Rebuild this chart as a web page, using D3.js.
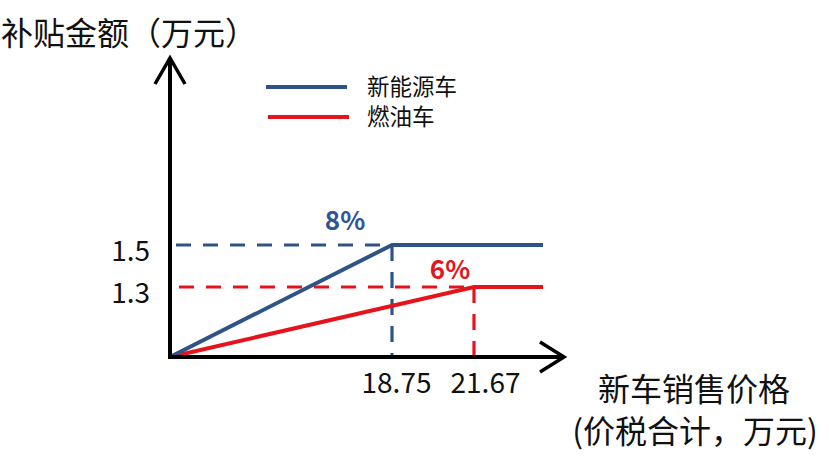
<!DOCTYPE html>
<html><head><meta charset="utf-8">
<script src="https://cdn.jsdelivr.net/npm/d3@7"></script>
<style>
body{margin:0;background:#fff}
svg{display:block}
text{font-family:"Noto Sans CJK SC","Noto Sans",sans-serif}
</style>
</head><body>
<svg id="c" width="829" height="459"></svg>
<script>
// ---- data ----
const seriesNames = ["新能源车", "燃油车"];
const seriesColors = ["#2E5387", "#E5141C"];
const capPrice = [18.75, 21.67];     // price where subsidy reaches its cap
const capSubsidy = [1.5, 1.3];       // subsidy cap (万元)
const rateLabels = ["8%", "6%"];
const xTickValues = [18.75, 21.67];
const xTickLabels = ["18.75", "21.67"];
const yTickValues = [1.5, 1.3];
const yTickLabels = ["1.5", "1.3"];
const priceEnd = 24.5;
const yTitle = "补贴金额（万元）";
const xTitle = ["新车销售价格", "(价税合计，万元)"];

// ---- layout ----
const svg = d3.select("#c");
const x0 = 170, y0 = 357;
// schematic (piecewise) scales, as in the reference
const x = d3.scaleLinear()
  .domain([0, ...[...capPrice].sort(d3.ascending), priceEnd])
  .range([x0, 392, 474, 543]);
const y = d3.scaleLinear()
  .domain([0, ...[...capSubsidy].sort(d3.ascending)])
  .range([y0, 287, 245]);

const series = seriesNames.map((n, i) => ({
  name: n, color: seriesColors[i], rate: rateLabels[i],
  pts: [[0, 0], [capPrice[i], capSubsidy[i]], [priceEnd, capSubsidy[i]]]
}));

// dashed guides
const gGuide = svg.append("g");
series.forEach((s, i) => {
  gGuide.append("line")
    .attr("x1", x0 + 6 + i * 3).attr("x2", x(capPrice[i]))
    .attr("y1", y(capSubsidy[i])).attr("y2", y(capSubsidy[i]))
    .attr("stroke", s.color).attr("stroke-width", 3.2)
    .attr("stroke-dasharray", "15,12");
  gGuide.append("line")
    .attr("x1", x(capPrice[i])).attr("x2", x(capPrice[i]))
    .attr("y1", y(capSubsidy[i])).attr("y2", y0)
    .attr("stroke", s.color).attr("stroke-width", 3.2)
    .attr("stroke-dasharray", "16,11");
});

// solid lines
const line = d3.line().x(d => x(d[0])).y(d => y(d[1]));
[1, 0].forEach(i => {
  svg.append("path").datum(series[i].pts)
    .attr("d", line).attr("fill", "none")
    .attr("stroke", series[i].color).attr("stroke-width", 4)
    .attr("stroke-linejoin", "miter");
});

// rate labels
const rateOffsets = [[-47, -27], [-24, -20]];
series.forEach((s, i) => {
  svg.append("text")
    .attr("x", x(capPrice[i]) + rateOffsets[i][0])
    .attr("y", y(capSubsidy[i]) + rateOffsets[i][1])
    .attr("text-anchor", "middle").attr("dominant-baseline", "central")
    .attr("font-size", 26).attr("font-weight", "bold")
    .attr("fill", i === 0 ? "#2F5597" : "#E5141C")
    .text(s.rate);
});

// axes tick labels via d3 axes
const yAxis = d3.axisLeft(y).tickValues(yTickValues)
  .tickFormat((d, i) => yTickLabels[i]).tickSize(0).tickPadding(20);
const gy = svg.append("g").attr("transform", `translate(${x0},0)`).call(yAxis);
gy.select(".domain").remove();
gy.selectAll("text").attr("font-size", 28).attr("fill", "#111")
  .attr("font-family", '"Noto Sans CJK SC",sans-serif').attr("dy", "0.55em");

const xAxis = d3.axisBottom(x).tickValues(xTickValues)
  .tickFormat((d, i) => xTickLabels[i]).tickSize(0).tickPadding(16);
const gx = svg.append("g").attr("transform", `translate(0,${y0})`).call(xAxis);
gx.select(".domain").remove();
gx.selectAll("text").attr("font-size", 28).attr("fill", "#111")
  .attr("font-family", '"Noto Sans CJK SC",sans-serif')
  .attr("dx", (d, i) => i === 0 ? 4 : 11);

// axis lines with arrows
const axisG = svg.append("g").attr("fill", "none").attr("stroke", "#000")
  .attr("stroke-width", 4).attr("stroke-linecap", "butt").attr("stroke-linejoin", "miter");
axisG.append("path").attr("d", `M${x0},${y0 + 2}V58`);
axisG.append("path").attr("d", `M${x0 - 15},84L${x0},58L${x0 + 15},84`).attr("stroke-width", 3.5);
axisG.append("path").attr("d", `M${x0 - 2},${y0}H563`);
axisG.append("path").attr("d", `M540,${y0 - 15}L564,${y0}L540,${y0 + 15}`).attr("stroke-width", 3.5);

// titles
svg.append("text").attr("x", 1).attr("y", 31).attr("dominant-baseline", "central")
  .attr("font-size", 32).attr("fill", "#111").text(yTitle);
svg.append("text").attr("x", 694).attr("y", 387).attr("dominant-baseline", "central")
  .attr("text-anchor", "middle").attr("font-size", 32).attr("fill", "#111").text(xTitle[0]);
svg.append("text").attr("x", 695).attr("y", 429).attr("dominant-baseline", "central")
  .attr("text-anchor", "middle").attr("font-size", 32).attr("fill", "#111").text(xTitle[1]);

// legend
const legY = [87, 117];
series.forEach((s, i) => {
  svg.append("line").attr("x1", 266 + i * 2).attr("x2", 347 + i * 2)
    .attr("y1", legY[i]).attr("y2", legY[i])
    .attr("stroke", s.color).attr("stroke-width", 4);
  svg.append("text").attr("x", 367).attr("y", legY[i] - 2)
    .attr("dominant-baseline", "central").attr("font-size", 22.5).attr("fill", "#111")
    .text(s.name);
});
</script>
</body></html>
